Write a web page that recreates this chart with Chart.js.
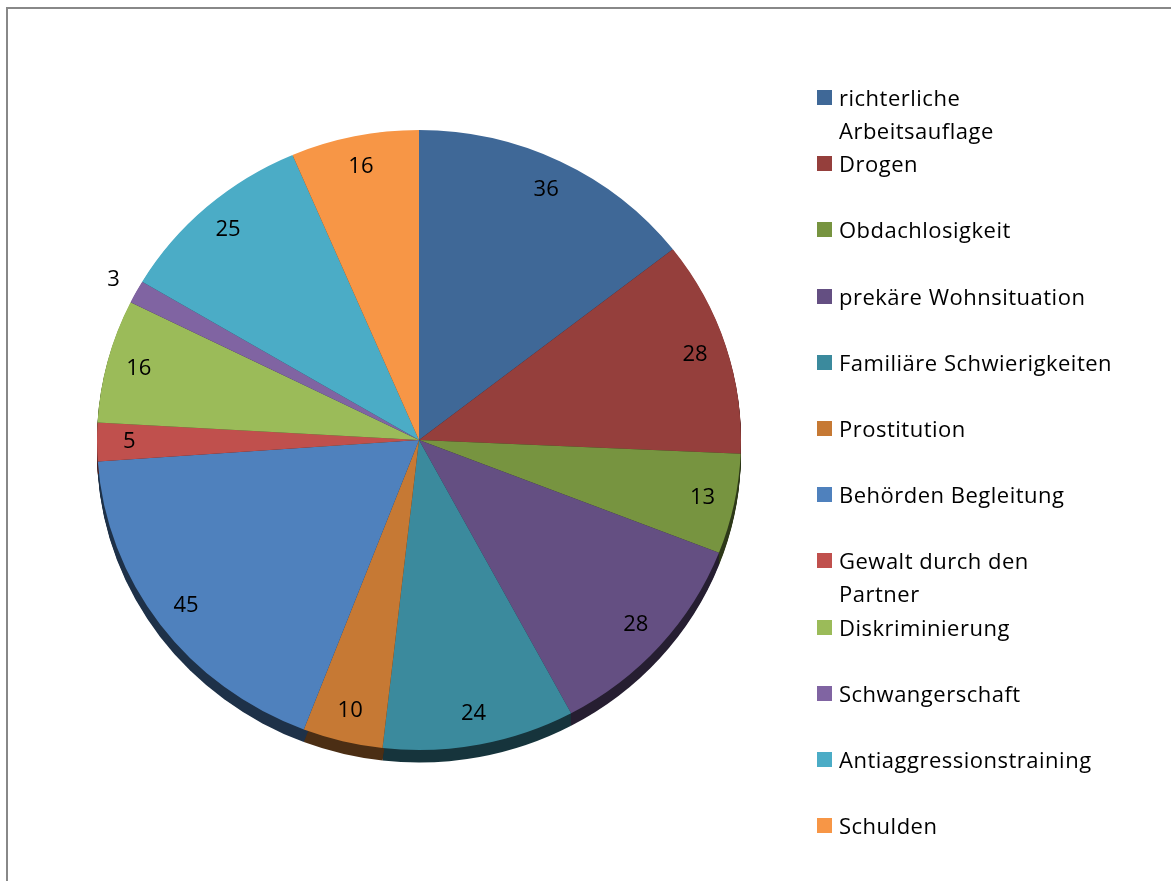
<!DOCTYPE html>
<html lang="de">
<head>
<meta charset="utf-8">
<title>Gründe</title>
<script src="https://cdn.jsdelivr.net/npm/chart.js@4.4.1/dist/chart.umd.min.js"></script>
<style>
  body { margin: 0; background: #fff; }
  #wrap { position: relative; width: 1171px; height: 881px; overflow: hidden; }
  #frame { position: absolute; left: 6px; top: 7px; width: 1300px; height: 1000px;
           border-left: 2px solid #888; border-top: 2px solid #888; }
  #pie { position: absolute; left: 0; top: 0; }
  #legend { position: absolute; left: 817px; top: 0; font-family: "Open Sans", sans-serif;
            font-size: 22px; letter-spacing: 0.5px; color: #000; }
  .item { position: absolute; left: 0; display: flex; line-height: 33px; white-space: nowrap; }
  .box { width: 15px; height: 15px; margin-top: 9px; margin-right: 7px; flex: none; }
</style>
</head>
<body>
<div id="wrap">
  <div id="frame"></div>
  <canvas id="pie" width="1171" height="881"></canvas>
  <div id="legend"></div>
</div>
<script>
const labels = [
  ['richterliche', 'Arbeitsauflage'],
  'Drogen',
  'Obdachlosigkeit',
  'prekäre Wohnsituation',
  'Familiäre Schwierigkeiten',
  'Prostitution',
  'Behörden Begleitung',
  ['Gewalt durch den', 'Partner'],
  'Diskriminierung',
  'Schwangerschaft',
  'Antiaggressionstraining',
  'Schulden'
];
const counts = [36, 28, 13, 28, 24, 10, 45, 5, 16, 3, 25, 16];
const colors = [
  '#3F6897', '#953F3C', '#779440', '#644F82', '#3B8A9D', '#C67934',
  '#4F81BD', '#C0504D', '#9BBB59', '#8064A2', '#4BACC6', '#F79646'
];

const TILT = 310 / 322;   // squash the disc into an ellipse
const RIM = 13;           // depth of the side wall in px

function shade(hex, f) {
  const n = parseInt(hex.slice(1), 16);
  const r = Math.round(((n >> 16) & 255) * f);
  const g = Math.round(((n >> 8) & 255) * f);
  const b = Math.round((n & 255) * f);
  return `rgb(${r},${g},${b})`;
}

const tiltPlugin = {
  id: 'tilt',
  beforeDatasetsDraw(chart) {
    const ctx = chart.ctx;
    const arcs = chart.getDatasetMeta(0).data;
    const cx = arcs[0].x, cy = arcs[0].y;
    ctx.save();
    ctx.translate(cx, cy);
    ctx.scale(1, TILT);
    ctx.translate(-cx, -cy);
    // dark side wall under the disc
    arcs.forEach((a, i) => {
      const p = a.getProps(['x', 'y', 'startAngle', 'endAngle', 'outerRadius']);
      ctx.fillStyle = shade(colors[i], 0.38);
      for (let d = 1; d <= RIM / TILT; d++) {
        ctx.beginPath();
        ctx.moveTo(p.x, p.y + d);
        ctx.arc(p.x, p.y + d, p.outerRadius, p.startAngle, p.endAngle);
        ctx.closePath();
        ctx.fill();
      }
    });
  },
  afterDatasetsDraw(chart) {
    const ctx = chart.ctx;
    ctx.restore();
    const arcs = chart.getDatasetMeta(0).data;
    const values = chart.data.datasets[0].data;
    ctx.save();
    ctx.font = '22px "Open Sans", sans-serif';
    ctx.fillStyle = '#000';
    ctx.textAlign = 'center';
    ctx.textBaseline = 'middle';
    arcs.forEach((a, i) => {
      const p = a.getProps(['x', 'y', 'startAngle', 'endAngle', 'outerRadius']);
      const mid = (p.startAngle + p.endAngle) / 2;
      const frac = values[i] < 4 ? 1.08 : 0.9;
      const x = p.x + Math.cos(mid) * p.outerRadius * frac;
      const y = p.y + Math.sin(mid) * p.outerRadius * frac * TILT;
      ctx.fillText(String(values[i]), x, y);
    });
    ctx.restore();
  }
};

new Chart(document.getElementById('pie'), {
  type: 'pie',
  data: {
    labels: labels,
    datasets: [{
      data: counts,
      backgroundColor: colors,
      borderWidth: 0
    }]
  },
  options: {
    responsive: false,
    animation: false,
    layout: { padding: { left: 97, right: 430, top: 118, bottom: 119 } },
    plugins: {
      legend: { display: false },
      tooltip: { enabled: false }
    }
  },
  plugins: [tiltPlugin]
});

// legend on the right
const legend = document.getElementById('legend');
labels.forEach((lab, i) => {
  const item = document.createElement('div');
  item.className = 'item';
  item.style.top = (81 + i * 66.2) + 'px';
  const box = document.createElement('div');
  box.className = 'box';
  box.style.background = colors[i];
  const text = document.createElement('div');
  text.innerHTML = (Array.isArray(lab) ? lab : [lab]).join('<br>');
  item.appendChild(box);
  item.appendChild(text);
  legend.appendChild(item);
});
</script>
</body>
</html>
